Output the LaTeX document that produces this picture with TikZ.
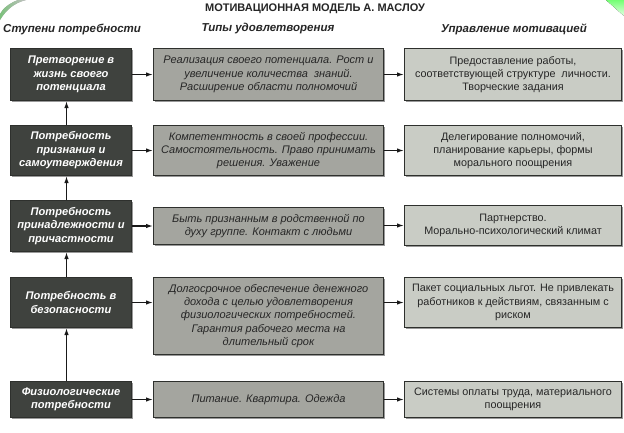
\documentclass[tikz,border=0pt]{standalone}
\usepackage{fontspec}
\setmainfont{Liberation Sans}
\usetikzlibrary{arrows.meta,shadows}
\definecolor{lbox}{HTML}{3F423E}
\definecolor{mbox}{HTML}{A4A59F}
\definecolor{rbox}{HTML}{C9CCC5}
\definecolor{edge}{HTML}{2E302D}
\definecolor{txt}{HTML}{262626}
\begin{document}
\begin{tikzpicture}[x=1pt,y=-1pt,
 base/.style={draw=edge,line width=1pt,inner sep=0pt,anchor=north west,align=center,
   drop shadow={shadow xshift=1.2pt,shadow yshift=-1.2pt,fill=black!40,opacity=1}},
 lbx/.style={base,fill=lbox,text=white,font=\fontsize{11.1}{13.5}\selectfont\bfseries\itshape,minimum width=121pt},
 mbx/.style={base,fill=mbox,text=txt,font=\fontsize{11}{13.3}\selectfont\itshape,minimum width=230pt},
 rbx/.style={base,fill=rbox,text=txt,font=\fontsize{10.8}{13.2}\selectfont,minimum width=217pt},
 hd/.style={font=\fontsize{11.5}{13}\selectfont\bfseries\itshape,text=txt},
 arr/.style={-{Latex[length=7pt,width=4.5pt]},line width=1.3pt,black!90}]
\useasboundingbox[fill=white] (0,0) rectangle (624,432);
% green corner decorations
\fill[left color=green!45!white,right color=white,opacity=0.6] (0,20) .. controls (6,10) and (14,3) .. (26,0) -- (18,0) .. controls (10,3) and (3,8) .. (0,14) -- cycle;
\fill[top color=green!55!white,bottom color=green!10!white] (606,0) -- (624,0) -- (624,16) -- cycle;
% title and headers
\node[font=\fontsize{11}{13}\selectfont\bfseries,text=txt] (title) at (315,9) {МОТИВАЦИОННАЯ МОДЕЛЬ А. МАСЛОУ};
\node[hd,anchor=west,inner sep=0pt] (h1) at (3,29) {Ступени потребности};
\node[hd] (h2) at (268,29) {Типы удовлетворения};
\node[hd] (h3) at (514,29) {Управление мотивацией};
% left column
\node[lbx,minimum height=52pt] (l1) at (10,48) {Претворение в\\жизнь своего\\потенциала};
\node[lbx,minimum height=50pt] (l2) at (10,125) {Потребность\\признания и\\самоутверждения};
\node[lbx,minimum height=51pt] (l3) at (10,200) {Потребность\\принадлежности и\\причастности};
\node[lbx,minimum height=50pt] (l4) at (10,277) {Потребность в\\безопасности};
\node[lbx,minimum height=36pt] (l5) at (10,381) {Физиологические\\потребности};
% middle column
\node[mbx,minimum height=52pt] (m1) at (153,48) {Реализация своего потенциала. Рост и\\увеличение количества\ \ знаний.\\Расширение области полномочий};
\node[mbx,minimum height=50pt] (m2) at (153,125) {Компетентность в своей профессии.\\Самостоятельность. Право принимать\\решения. Уважение};
\node[mbx,minimum height=37pt] (m3) at (153,207) {Быть признанным в родственной по\\духу группе. Контакт с людьми};
\node[mbx,minimum height=77pt] (m4) at (153,277) {Долгосрочное обеспечение денежного\\дохода с целью удовлетворения\\физиологических потребностей.\\Гарантия рабочего места на\\длительный срок};
\node[mbx,minimum height=36pt] (m5) at (153,381) {Питание. Квартира. Одежда};
% right column
\node[rbx,minimum height=52pt] (r1) at (404,48) {Предоставление работы,\\соответствующей структуре\ \ личности.\\Творческие задания};
\node[rbx,minimum height=50pt] (r2) at (404,125) {Делегирование полномочий,\\планирование карьеры, формы\\морального поощрения};
\node[rbx,minimum height=40pt] (r3) at (404,205) {Партнерство.\\Морально-психологический климат};
\node[rbx,minimum height=50pt] (r4) at (404,277) {Пакет социальных льгот. Не привлекать\\работников к действиям, связанным с\\риском};
\node[rbx,minimum height=36pt] (r5) at (404,381) {Системы оплаты труда, материального\\поощрения};
% vertical arrows
\draw[arr] ([xshift=-4.5pt]l2.north) -- ([xshift=-4.5pt]l1.south);
\draw[arr] ([xshift=-4.5pt]l3.north) -- ([xshift=-4.5pt]l2.south);
\draw[arr] ([xshift=-4.5pt]l4.north) -- ([xshift=-4.5pt]l3.south);
\draw[arr] ([xshift=-4.5pt]l5.north) -- ([xshift=-4.5pt]l4.south);
% horizontal arrows
\draw[arr] (l1.east) -- (l1.east -| m1.west);
\draw[arr] (l2.east) -- (l2.east -| m2.west);
\draw[arr] (l3.east) -- (l3.east -| m3.west);
\draw[arr] (l4.east) -- (l4.east -| m4.west);
\draw[arr] (l5.east) -- (l5.east -| m5.west);
\draw[arr] (m1.east |- r1.west) -- (r1.west);
\draw[arr] (m2.east |- r2.west) -- (r2.west);
\draw[arr] (m3.east |- r3.west) -- (r3.west);
\draw[arr] (m4.east |- r4.west) -- (r4.west);
\draw[arr] (m5.east |- r5.west) -- (r5.west);
\end{tikzpicture}
\end{document}
